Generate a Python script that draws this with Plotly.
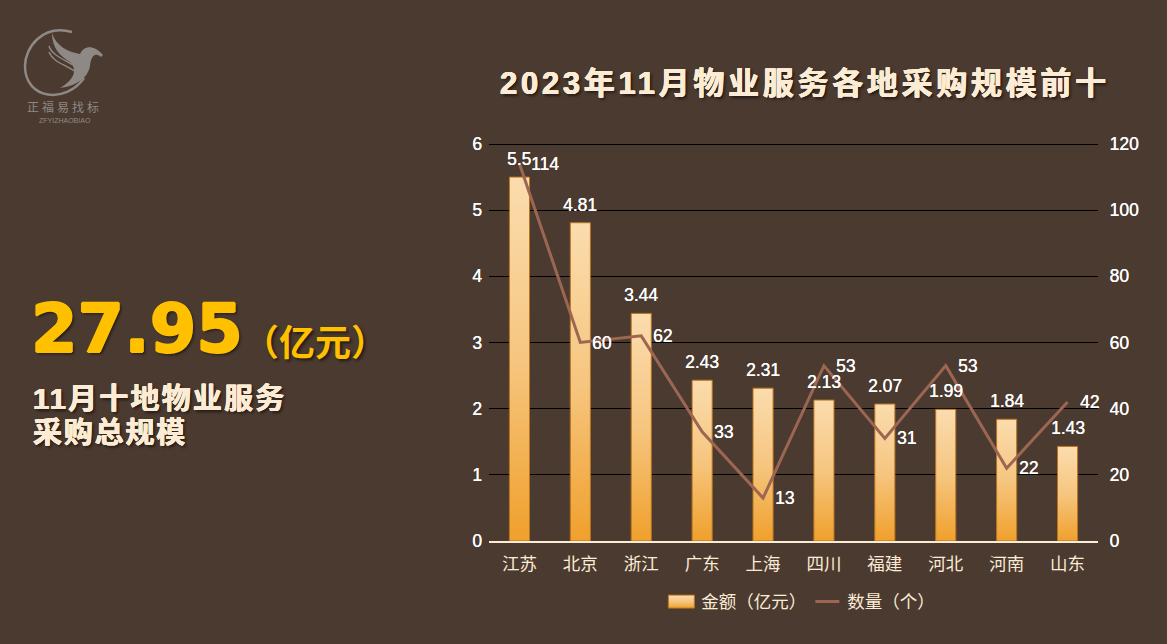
import plotly.graph_objects as go

# data
regions = ["江苏", "北京", "浙江", "广东", "上海", "四川", "福建", "河北", "河南", "山东"]
amount = [5.5, 4.81, 3.44, 2.43, 2.31, 2.13, 2.07, 1.99, 1.84, 1.43]
count = [114, 60, 62, 33, 13, 53, 31, 53, 22, 42]
amount_labels = ["5.5", "4.81", "3.44", "2.43", "2.31", "2.13", "2.07", "1.99", "1.84", "1.43"]

bg = "#4b3a30"
cream = "#fcebd5"
gold = "#ffc000"
logo_col = "#8e8984"
cjk = "Liberation Sans, Noto Sans CJK SC"
drop = "2px 2px 3px rgba(0,0,0,0.55)"


# same-colour offsets thicken the glyphs, the last layer is the drop shadow
def heavy(color, w):
    return f"{w}px 0 0 {color}, -{w}px 0 0 {color}, 0 {w}px 0 {color}, 0 -{w}px 0 {color}, {drop}"


label_font = dict(color="#ffffff", size=17.5, family=cjk, shadow="0.25px 0 0 #ffffff")

fig = go.Figure()
fig.add_trace(go.Bar(
    x=regions, y=amount, name="金额（亿元）", width=0.33,
    marker=dict(color="#f0a030", line=dict(color="#b8741f", width=1)),
))
fig.add_trace(go.Scatter(
    x=regions, y=count, name="数量（个）", yaxis="y2", mode="lines",
    line=dict(color="#9c6653", width=3), cliponaxis=False,
))

annots = []
# bar labels and line labels
for r, v, t in zip(regions, amount, amount_labels):
    annots.append(dict(x=r, y=v, xref="x", yref="y", text=t, showarrow=False, yshift=18, font=label_font))
for r, c in zip(regions, count):
    annots.append(dict(x=r, y=c, xref="x", yref="y2", text=str(c), showarrow=False, xshift=10,
                       xanchor="left", font=label_font))


def note(x, y, text, size, color, family=cjk, shadow_css="none"):
    annots.append(dict(x=x, y=y, xref="paper", yref="paper", text=text, showarrow=False,
                       xanchor="left", yanchor="middle", align="left",
                       font=dict(color=color, size=size, family=family, shadow=shadow_css)))


# plot area is 489..1098 x 144..541, so convert page pixels to paper
def px(x):
    return (x - 489) / 609


def py(y):
    return (541 - y) / 397


note(px(498), py(84), "<b>2023年11月物业服务各地采购规模前十</b>", 31, cream, cjk, heavy(cream, 0.4))
note(px(29), py(329), "<b>27.95</b>", 67, gold, "DejaVu Sans, Liberation Sans", heavy(gold, 1))
note(px(241), py(343), "<b>（亿元）</b>", 36, gold, cjk, drop)
note(px(31), py(399), "<b>11月十地物业服务</b>", 29, cream, cjk, heavy(cream, 0.4))
note(px(31), py(433), "<b>采购总规模</b>", 29, cream, cjk, heavy(cream, 0.4))
note(px(25), py(107), "正福易找标", 12, logo_col, "Noto Sans CJK SC")
note(px(37), py(120), "ZFYIZHAOBIAO", 7, logo_col, "Liberation Sans")

# top grid line (plotly drops the one on the range edge), then the logo: open ring plus bird
shapes = [
    dict(type="line", xref="paper", yref="y", x0=0, x1=1, y0=6, y1=6, line=dict(color="#000000", width=1), layer="below"),
    dict(type="path", xref="paper", yref="paper", line=dict(color=logo_col, width=2.5), fillcolor="rgba(0,0,0,0)",
         path=f"M {px(72)},{py(32)} C {px(42)},{py(24)} {px(25)},{py(48)} {px(25)},{py(66)} "
              f"C {px(25)},{py(100)} {px(66)},{py(104)} {px(84)},{py(78)}"),
    dict(type="path", xref="paper", yref="paper", line=dict(width=0), fillcolor=logo_col,
         path=f"M {px(52)},{py(33)} C {px(56)},{py(46)} {px(68)},{py(52)} {px(80)},{py(54)} "
              f"C {px(84)},{py(46)} {px(93)},{py(44)} {px(103)},{py(55)} L {px(101)},{py(57)} "
              f"C {px(95)},{py(52)} {px(91)},{py(56)} {px(90)},{py(66)} "
              f"C {px(88)},{py(78)} {px(76)},{py(86)} {px(60)},{py(88)} "
              f"C {px(74)},{py(80)} {px(78)},{py(70)} {px(70)},{py(62)} "
              f"C {px(60)},{py(56)} {px(52)},{py(48)} {px(52)},{py(33)} Z"),
    dict(type="path", xref="paper", yref="paper", line=dict(color=logo_col, width=1.5), fillcolor="rgba(0,0,0,0)",
         path=f"M {px(49)},{py(46)} C {px(52)},{py(56)} {px(66)},{py(60)} {px(78)},{py(68)}"),
    dict(type="path", xref="paper", yref="paper", line=dict(color=logo_col, width=1.5), fillcolor="rgba(0,0,0,0)",
         path=f"M {px(49)},{py(52)} C {px(53)},{py(62)} {px(64)},{py(64)} {px(76)},{py(72)}"),
]

fig.update_layout(
    width=1167, height=644, autosize=False,
    margin=dict(l=489, r=69, t=144, b=103),
    paper_bgcolor=bg, plot_bgcolor=bg,
    font=dict(family=cjk, color="#ffffff", size=17),
    bargap=0.67, showlegend=True,
    legend=dict(orientation="h", x=0.283, xanchor="left", y=-0.153, yanchor="middle",
                entrywidth=101, entrywidthmode="pixels",
                font=dict(color=cream, size=17.5), bgcolor="rgba(0,0,0,0)", itemsizing="trace"),
    # fixed range: the label annotations would otherwise widen the autorange
    xaxis=dict(range=[-0.5, 9.5], showgrid=False, showline=True, linecolor=cream, linewidth=1.5, ticks="",
               ticklabelstandoff=6, tickfont=dict(color=cream, size=17.5), zeroline=False, fixedrange=True),
    yaxis=dict(range=[0, 6], dtick=1, gridcolor="#000000", gridwidth=1, zeroline=False, ticks="", ticklabelstandoff=6,
               showline=False, tickfont=label_font, fixedrange=True),
    yaxis2=dict(range=[0, 120], dtick=20, overlaying="y", side="right", showgrid=False, zeroline=False,
                ticks="outside", ticklen=7, tickcolor="rgba(0,0,0,0)", tickfont=label_font, fixedrange=True),
    annotations=annots, shapes=shapes,
)

# gradient fill on the bars and the legend swatch, plus page margin and letter spacing
post = """
document.body.style.margin = '0';
document.body.style.background = '%s';
var gd = document.getElementsByClassName('plotly-graph-div')[0];
var svg = gd.querySelector('svg.main-svg');
var ns = 'http://www.w3.org/2000/svg';
var defs = document.createElementNS(ns, 'defs');
var g = document.createElementNS(ns, 'linearGradient');
g.setAttribute('id', 'barfade');
g.setAttribute('x1', '0'); g.setAttribute('y1', '0'); g.setAttribute('x2', '0'); g.setAttribute('y2', '1');
[['0', '#fbdcae'], ['0.5', '#f6c680'], ['1', '#f0a02c']].forEach(function (s) {
  var st = document.createElementNS(ns, 'stop');
  st.setAttribute('offset', s[0]); st.setAttribute('stop-color', s[1]);
  g.appendChild(st);
});
defs.appendChild(g);
svg.insertBefore(defs, svg.firstChild);
gd.querySelectorAll('.bars .point path').forEach(function (p) {
  p.style.fill = 'url(#barfade)';
});
gd.querySelectorAll('.legendpoints path').forEach(function (p) {
  p.style.fill = 'url(#barfade)';
  p.setAttribute('d', 'M13,6.5H-13V-6.5H13Z');
});
gd.querySelectorAll('.legendlines path').forEach(function (p) {
  p.setAttribute('d', 'M8,0h24');
});
gd.querySelectorAll('.layer-below .shapelayer path').forEach(function (p) {
  p.style.shapeRendering = 'crispEdges';
});
gd.querySelectorAll('.annotation-text').forEach(function (t) {
  var s = t.textContent;
  if (s.indexOf('2023') === 0) t.style.letterSpacing = '3.7px';
  if (s.indexOf('11月') === 0) t.style.letterSpacing = '2.2px';
  if (s.indexOf('采购总') === 0) t.style.letterSpacing = '1.8px';
  if (s.indexOf('正福') === 0) t.style.letterSpacing = '3px';
});
""" % bg

fig.write_html("out.html", post_script=post, config=dict(displayModeBar=False))
